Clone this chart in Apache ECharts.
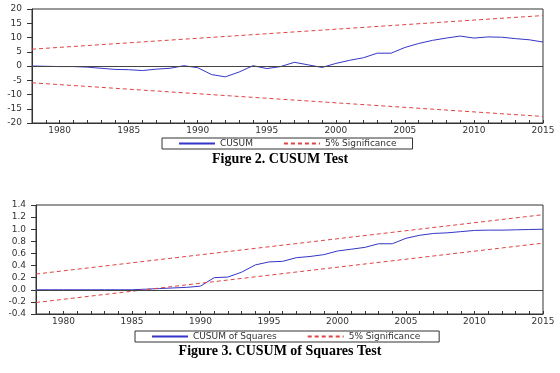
<!DOCTYPE html>
<html>
<head>
<meta charset="utf-8">
<script src="https://cdn.jsdelivr.net/npm/echarts@6/dist/echarts.min.js"></script>
<style>
  html, body { margin: 0; padding: 0; background: #fff; }
  #main { width: 560px; height: 373px; }
</style>
</head>
<body>
<div id="main"></div>
<script>
// years on the x axis (both panels)
var years = [];
for (var y = 1978; y <= 2015; y++) years.push(String(y));

// Figure 2 - CUSUM values
var cusum = [0.0, -0.1, -0.2, -0.2, -0.4, -0.8, -1.2, -1.3, -1.6, -1.1,
    -0.8, 0.1, -0.6, -3.0, -3.8, -2.1, 0.1, -0.9, -0.2, 1.3,
    0.4, -0.5, 0.9, 2.0, 2.9, 4.5, 4.5, 6.5, 7.9, 9.0,
    9.8, 10.5, 9.8, 10.2, 10.1, 9.6, 9.2, 8.4];
// 5% bands, end points only (straight lines)
var cusumUpper = [['1978', 5.9], ['2015', 17.7]];
var cusumLower = [['1978', -5.9], ['2015', -17.7]];

// Figure 3 - CUSUM of squares
var cusumSq = [0.0, 0.0, 0.0, 0.0, 0.0, 0.0, 0.0, 0.0, 0.01, 0.02,
    0.03, 0.04, 0.06, 0.2, 0.21, 0.29, 0.41, 0.46, 0.47, 0.53,
    0.55, 0.58, 0.64, 0.67, 0.70, 0.76, 0.76, 0.85, 0.90, 0.93,
    0.94, 0.96, 0.98, 0.985, 0.985, 0.99, 0.995, 1.0];
var sqUpper = [['1978', 0.26], ['2015', 1.24]];
var sqLower = [['1978', -0.21], ['2015', 0.77]];

var blue = '#3535c8';
var red = '#e04444';
var axisCol = '#333';
var tickFont = { fontFamily: 'DejaVu Sans', fontSize: 9, color: '#333' };

function xAxisFor(gridIndex) {
    return {
        type: 'category', gridIndex: gridIndex, data: years, boundaryGap: false,
        axisLine: { onZero: false, lineStyle: { color: axisCol, width: 1 } },
        axisTick: { inside: true, length: 3, interval: 0, lineStyle: { color: axisCol } },
        axisLabel: Object.assign({
            margin: 3,
            interval: function (i, v) { return Number(v) % 5 === 0; }
        }, tickFont),
        splitLine: { show: false }
    };
}

function yAxisFor(gridIndex, min, max, step, digits) {
    return {
        type: 'value', gridIndex: gridIndex, min: min, max: max, interval: step,
        axisLine: { show: true, onZero: false, lineStyle: { color: axisCol, width: 1 } },
        axisTick: { show: true, length: 5, lineStyle: { color: axisCol } },
        axisLabel: Object.assign({
            margin: 10,
            formatter: function (v) { return v.toFixed(digits); }
        }, tickFont),
        splitLine: { show: false }
    };
}

function zeroLine() {
    return {
        silent: true, symbol: 'none', label: { show: false },
        lineStyle: { color: '#444', type: 'solid', width: 1 },
        data: [{ yAxis: 0 }]
    };
}

var legendStyle = {
    orient: 'horizontal', borderColor: '#333', borderWidth: 1, padding: [1, 16],
    itemWidth: 36, itemHeight: 6, itemGap: 30,
    itemStyle: { opacity: 0 },
    textStyle: { fontFamily: 'DejaVu Sans', fontSize: 9, color: '#333' }
};

var option = {
    animation: false,
    backgroundColor: '#fff',
    title: [
        { text: 'Figure 2. CUSUM Test', left: 'center', top: 147,
          textStyle: { fontFamily: 'Liberation Serif', fontWeight: 'bold', fontSize: 14, color: '#000' } },
        { text: 'Figure 3. CUSUM of Squares Test', left: 'center', top: 339,
          textStyle: { fontFamily: 'Liberation Serif', fontWeight: 'bold', fontSize: 14, color: '#000' } }
    ],
    grid: [
        { left: 32, right: 17, top: 9, height: 114, show: true, borderColor: axisCol, borderWidth: 1 },
        { left: 36, right: 17, top: 205, height: 109, show: true, borderColor: axisCol, borderWidth: 1 }
    ],
    legend: [
        Object.assign({ left: 162, top: 138, data: ['CUSUM', '5% Significance'] }, legendStyle),
        Object.assign({ left: 135, top: 331, data: ['CUSUM of Squares', '5% Significance '] }, legendStyle)
    ],
    xAxis: [xAxisFor(0), xAxisFor(1)],
    yAxis: [yAxisFor(0, -20, 20, 5, 0), yAxisFor(1, -0.4, 1.4, 0.2, 1)],
    series: [
        { name: 'CUSUM', type: 'line', xAxisIndex: 0, yAxisIndex: 0, data: cusum,
          symbol: 'none', lineStyle: { color: blue, width: 1 }, itemStyle: { color: blue },
          markLine: zeroLine(), z: 3 },
        { name: '5% Significance', type: 'line', xAxisIndex: 0, yAxisIndex: 0, data: cusumUpper,
          symbol: 'none', lineStyle: { color: red, width: 1, type: [4, 3] }, itemStyle: { color: red } },
        { name: '5% Significance', type: 'line', xAxisIndex: 0, yAxisIndex: 0, data: cusumLower,
          symbol: 'none', lineStyle: { color: red, width: 1, type: [4, 3] }, itemStyle: { color: red } },
        { name: 'CUSUM of Squares', type: 'line', xAxisIndex: 1, yAxisIndex: 1, data: cusumSq,
          symbol: 'none', lineStyle: { color: blue, width: 1 }, itemStyle: { color: blue },
          markLine: zeroLine(), z: 3 },
        { name: '5% Significance ', type: 'line', xAxisIndex: 1, yAxisIndex: 1, data: sqUpper,
          symbol: 'none', lineStyle: { color: red, width: 1, type: [4, 3] }, itemStyle: { color: red } },
        { name: '5% Significance ', type: 'line', xAxisIndex: 1, yAxisIndex: 1, data: sqLower,
          symbol: 'none', lineStyle: { color: red, width: 1, type: [4, 3] }, itemStyle: { color: red } }
    ]
};

var chart = echarts.init(document.getElementById('main'));
chart.setOption(option);
</script>
</body>
</html>
